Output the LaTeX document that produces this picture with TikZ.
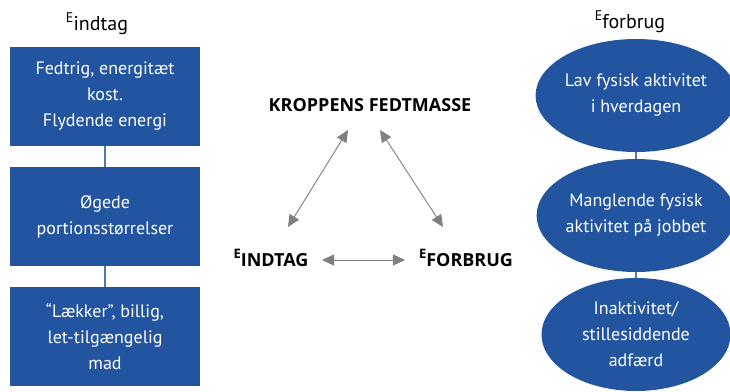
\documentclass[tikz,border=0pt]{standalone}
\usepackage{fontspec}
\setmainfont{PT Sans}
\newfontfamily\capfont{Open Sans}
\usetikzlibrary{shapes.geometric,arrows.meta}
\definecolor{boxblue}{RGB}{35,84,160}
\definecolor{linkblue}{RGB}{79,120,185}
\definecolor{arrgray}{RGB}{128,128,128}
\tikzset{
  factbox/.style={rectangle, fill=boxblue, text=white, minimum width=190pt, minimum height=99pt, inner sep=0pt, align=center, font=\fontsize{18}{26}\selectfont},
  factell/.style={ellipse, fill=boxblue, text=white, minimum width=189pt, minimum height=113pt, inner sep=0pt, align=center, font=\fontsize{18}{26}\selectfont},
  link/.style={draw=linkblue, line width=1.2pt},
  twoway/.style={draw=arrgray, line width=0.9pt, {Triangle[length=12pt,width=11pt]}-{Triangle[length=12pt,width=11pt]}},
  bigcap/.style={font=\capfont\bfseries\fontsize{18}{18}\selectfont, inner sep=0pt},
  toplab/.style={inner sep=0pt}
}
\begin{document}
\begin{tikzpicture}[x=1pt,y=-1pt]
\useasboundingbox (0,0) rectangle (730,391);
% headings
\node[toplab, anchor=base] (hin) at (97,30) {\raisebox{8pt}{\fontsize{14}{14}\selectfont E}\fontsize{20}{20}\selectfont indtag};
\node[toplab, anchor=base] (hfo) at (630,28) {\raisebox{8pt}{\fontsize{14}{14}\selectfont E}\fontsize{20}{20}\selectfont forbrug};
% left boxes
\node[factbox] (b1) at (105,96.5) {Fedtrig, energitæt\\kost.\\Flydende energi};
\node[factbox] (b2) at (105,216.5) {Øgede\\portionsstørrelser};
\node[factbox] (b3) at (105,336.5) {“Lækker”, billig,\\let-tilgængelig\\mad};
\draw[link] (b1.south) -- (b2.north);
\draw[link] (b2.south) -- (b3.north);
% right ellipses
\node[factell] (e1) at (636,95.5) {Lav fysisk aktivitet\\i hverdagen};
\node[factell] (e2) at (636,215.5) {Manglende fysisk\\aktivitet på jobbet};
\node[factell] (e3) at (636,334.5) {Inaktivitet/\\stillesiddende\\adfærd};
\draw[link] (e1.south) -- (e2.north);
\draw[link] (e2.south) -- (e3.north);
% centre triangle
\node[bigcap, anchor=base] (km) at (370,111) {KROPPENS FEDTMASSE};
\node[bigcap, anchor=base] (ei) at (271,266) {\raisebox{8pt}{\fontsize{13}{13}\selectfont E}INDTAG};
\node[bigcap, anchor=base] (ef) at (466,266) {\raisebox{8pt}{\fontsize{13}{13}\selectfont E}FORBRUG};
\coordinate (kl) at (348,130);
\coordinate (il) at (288,227);
\coordinate (kr) at (380,130);
\coordinate (fr) at (443,227);
\coordinate (ih) at (322,260);
\coordinate (fh) at (405,260);
\draw[twoway] (kl) -- (il);
\draw[twoway] (kr) -- (fr);
\draw[twoway] (ih) -- (fh);
\end{tikzpicture}
\end{document}
